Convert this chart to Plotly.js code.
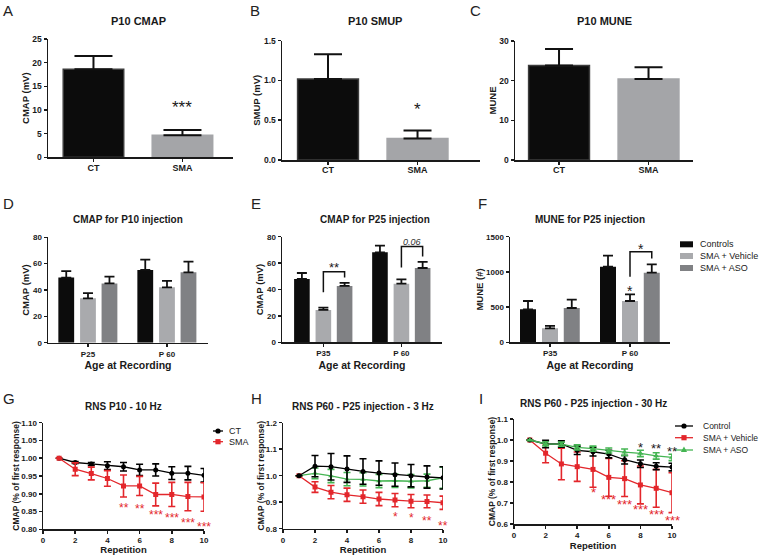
<!DOCTYPE html>
<html><head><meta charset="utf-8">
<script src="https://cdn.plot.ly/plotly-3.0.1.min.js"></script>
<style>html,body{margin:0;padding:0;background:#fff}#chart{width:760px;height:555px}</style>
</head><body><div id="chart"></div>
<script>
// ---------------- DATA ----------------
const topCats = ['CT', 'SMA'];
const cmapP10 = [18.6, 4.65];
const cmapP10Err = [2.8, 1.1];
const cmapP10Stars = ['', '***'];
const cmapP10StarY = [null, 11.3];
const smupP10 = [1.02, 0.27];
const smupP10Err = [0.31, 0.10];
const smupP10Stars = ['', '*'];
const smupP10StarY = [null, 0.68];
const muneP10 = [23.8, 20.4];
const muneP10Err = [4.2, 3.0];

const groupNames = ['Controls', 'SMA + Vehicle', 'SMA + ASO'];
const agesD = ['P25', 'P 60'];
const cmapP10injCT = [49.4, 55.2];
const cmapP10injCTErr = [5.0, 7.8];
const cmapP10injVeh = [33.7, 42.0];
const cmapP10injVehErr = [4.0, 5.0];
const cmapP10injASO = [45.0, 53.4];
const cmapP10injASOErr = [5.1, 8.1];

const agesE = ['P35', 'P 60'];
const cmapP25injCT = [48.0, 68.2];
const cmapP25injCTErr = [4.5, 5.0];
const cmapP25injVeh = [24.5, 44.4];
const cmapP25injVehErr = [1.8, 3.3];
const cmapP25injASO = [42.7, 56.3];
const cmapP25injASOErr = [2.3, 4.6];
const eBrGroup = [0, 1];
const eBrTop = [53.5, 72.5];
const eBrLeft = [37.9, 56.6];
const eBrRight = [49.0, 65.0];
const eBrLabel = ['**', '0.06'];
const eBrLabelY = [59.0, 76.3];

const agesF = ['P35', 'P 60'];
const muneP25injCT = [468, 1074];
const muneP25injCTErr = [119, 156];
const muneP25injVeh = [199, 587];
const muneP25injVehErr = [33, 94];
const muneP25injASO = [487, 989];
const muneP25injASOErr = [119, 118];
const fVehStars = ['', '*'];
const fVehStarY = [null, 776];
const fBrGroup = [1];
const fBrTop = [1287];
const fBrLeft = [932];
const fBrRight = [1192];
const fBrLabel = ['*'];
const fBrLabelY = [1372];

const reps = [1, 2, 3, 4, 5, 6, 7, 8, 9, 10];
const rnsGNames = ['CT', 'SMA'];
const rnsG_CT = [1.000, 0.988, 0.984, 0.979, 0.976, 0.967, 0.967, 0.958, 0.958, 0.952];
const rnsG_CTErr = [0, 0.003, 0.004, 0.011, 0.012, 0.016, 0.017, 0.018, 0.019, 0.019];
const rnsG_SMA = [1.000, 0.969, 0.957, 0.943, 0.922, 0.922, 0.898, 0.898, 0.892, 0.891];
const rnsG_SMAErr = [0, 0.018, 0.018, 0.022, 0.031, 0.027, 0.032, 0.034, 0.040, 0.040];
const rnsG_Stars = ['', '', '', '', '**', '**', '***', '***', '***', '***'];
const rnsG_StarY = [null, null, null, null, 0.868, 0.864, 0.847, 0.838, 0.826, 0.815];

const rnsNames = ['Control', 'SMA + Vehicle', 'SMA + ASO'];
const rnsH_Ctl = [1.000, 1.036, 1.034, 1.025, 1.016, 1.010, 1.004, 1.000, 0.995, 0.992];
const rnsH_CtlErr = [0, 0.040, 0.050, 0.050, 0.048, 0.046, 0.044, 0.042, 0.042, 0.042];
const rnsH_Veh = [1.000, 0.957, 0.938, 0.928, 0.921, 0.912, 0.908, 0.904, 0.903, 0.898];
const rnsH_VehErr = [0, 0.020, 0.025, 0.025, 0.025, 0.025, 0.025, 0.025, 0.024, 0.025];
const rnsH_ASO = [1.000, 1.009, 0.999, 0.987, 0.986, 0.980, 0.981, 0.979, 0.981, 0.992];
const rnsH_ASOErr = [0, 0.020, 0.025, 0.025, 0.025, 0.025, 0.025, 0.025, 0.025, 0.040];
const rnsH_Stars = ['', '', '', '', '', '', '*', '*', '**', '**'];
const rnsH_StarY = [null, null, null, null, null, null, 0.855, 0.850, 0.838, 0.820];

const rnsI_Ctl = [1.000, 0.981, 0.981, 0.951, 0.944, 0.933, 0.906, 0.887, 0.875, 0.871];
const rnsI_CtlErr = [0, 0.018, 0.015, 0.020, 0.020, 0.018, 0.020, 0.018, 0.017, 0.018];
const rnsI_Veh = [1.000, 0.937, 0.886, 0.873, 0.860, 0.822, 0.816, 0.786, 0.770, 0.749];
const rnsI_VehErr = [0, 0.045, 0.075, 0.070, 0.085, 0.090, 0.085, 0.090, 0.090, 0.095];
const rnsI_ASO = [1.000, 0.982, 0.980, 0.965, 0.959, 0.950, 0.942, 0.936, 0.924, 0.917];
const rnsI_ASOErr = [0, 0.010, 0.010, 0.012, 0.012, 0.012, 0.015, 0.015, 0.015, 0.015];
const rnsI_VehStars = ['', '', '', '', '*', '***', '***', '***', '***', '***'];
const rnsI_VehStarY = [null, null, null, null, 0.763, 0.729, 0.708, 0.681, 0.657, 0.629];
const rnsI_CtlStars = ['', '', '', '', '', '', '', '*', '**', '**'];
const rnsI_CtlStarY = [null, null, null, null, null, null, null, 0.976, 0.971, 0.960];

// ---------------- STYLE / LAYOUT ----------------
const FONT = 'Liberation Sans, Arial, Helvetica, sans-serif';
const W = 760, H = 555;
const INK = '#1a1a1a';
const BLACK = '#0c0c0c', GRAY = '#a4a5a8', LIGHT = '#a9aaad', DARK = '#808184';
const RED = '#e3262b', GREEN = '#45b553';
const groupColors = [BLACK, LIGHT, DARK];
const groupCenters = [-0.275, 0, 0.272];
const groupW = 0.2;

const px = v => v / W;
const py = v => 1 - v / H;

const layout = {
  width: W, height: H, margin: {l: 0, r: 0, t: 0, b: 0},
  paper_bgcolor: '#fff', plot_bgcolor: 'rgba(0,0,0,0)',
  showlegend: false, barmode: 'overlay',
  font: {family: FONT, color: INK},
  annotations: [], shapes: []
};

const baseAx = () => ({
  showline: true, linecolor: INK, linewidth: 1.5, ticks: 'outside', ticklen: 3,
  tickwidth: 1.5, tickcolor: INK, showgrid: false, zeroline: false, fixedrange: true,
  automargin: false, tickfont: {family: FONT, size: 8.5, weight: 'bold', color: INK}
});

function setAxes(n, box, xo, yo) {
  const s = n === 1 ? '' : String(n);
  layout['xaxis' + s] = Object.assign(baseAx(), {domain: [px(box[0]), px(box[1])], anchor: 'y' + s}, xo);
  layout['yaxis' + s] = Object.assign(baseAx(), {domain: [py(box[3]), py(box[2])], anchor: 'x' + s}, yo);
}
const axTitle = (text, size, standoff) => ({text, font: {family: FONT, size, weight: 'bold', color: INK}, standoff});

function note(text, x, y, size, extra) {
  layout.annotations.push(Object.assign({
    text, x: px(x), y: py(y), xref: 'paper', yref: 'paper', showarrow: false,
    xanchor: 'center', yanchor: 'middle', font: {family: FONT, size, color: INK}
  }, extra || {}));
}
function title(text, x, y, size) { note(text, x, y, size, {font: {family: FONT, size, weight: 'bold', color: INK}}); }

function stars(n, xs, labels, ys, color, size) {
  const s = n === 1 ? '' : String(n);
  labels.forEach((t, i) => {
    if (!t) return;
    layout.annotations.push({text: t, x: xs[i], y: ys[i], xref: 'x' + s, yref: 'y' + s,
      showarrow: false, xanchor: 'center', yanchor: 'middle', yshift: -0.22 * size,
      font: {family: FONT, size, color}});
  });
}

const traces = [];
function topBars(n, vals, errs, cap) {
  const s = n === 1 ? '' : String(n);
  traces.push({type: 'bar', x: topCats.map((c, i) => i), y: vals, width: 0.68,
    xaxis: 'x' + s, yaxis: 'y' + s, hoverinfo: 'skip',
    marker: {color: [BLACK, GRAY], line: {color: ['#3c3c3c', GRAY], width: 1.5}},
    error_y: {type: 'data', symmetric: false, array: errs, arrayminus: errs.map(() => 0),
      color: '#111', thickness: 2, width: cap}});
}
function groupBars(n, cats, series, errs) {
  const s = n === 1 ? '' : String(n);
  series.forEach((vals, k) => {
    traces.push({type: 'bar', name: groupNames[k], x: cats.map((c, i) => i), y: vals,
      width: groupW, offset: groupCenters[k] - groupW / 2,
      xaxis: 'x' + s, yaxis: 'y' + s, hoverinfo: 'skip',
      marker: {color: groupColors[k], line: {width: 0}},
      error_y: {type: 'data', symmetric: false, array: errs[k], arrayminus: errs[k].map(() => 0),
        color: '#111', thickness: 1.8, width: 5}});
  });
}
function brackets(n, groups, top, left, right, labels, labelY, labelStyles) {
  const s = n === 1 ? '' : String(n);
  groups.forEach((g, i) => {
    const xl = g + groupCenters[1], xr = g + groupCenters[2];
    traces.push({type: 'scatter', mode: 'lines', x: [xl, xl, xr, xr], y: [left[i], top[i], top[i], right[i]],
      xaxis: 'x' + s, yaxis: 'y' + s, hoverinfo: 'skip', showlegend: false,
      line: {color: '#111', width: 1.5}});
    const st = labelStyles[i];
    layout.annotations.push({text: labels[i], x: (xl + xr) / 2, y: labelY[i], xref: 'x' + s, yref: 'y' + s,
      showarrow: false, xanchor: 'center', yanchor: 'middle', yshift: st.yshift,
      font: {family: FONT, size: st.size, color: st.color, style: st.style || 'normal'}});
  });
}
function lineTrace(n, y, err, color, symbol, size) {
  const s = n === 1 ? '' : String(n);
  traces.push({type: 'scatter', mode: 'lines+markers', x: reps, y, xaxis: 'x' + s, yaxis: 'y' + s,
    hoverinfo: 'skip', line: {color, width: 1.3}, marker: {symbol, size, color},
    error_y: {type: 'data', array: err, color, thickness: 1.6, width: 3.5}});
}

// manual compact legends
function legendMarker(x, y, symbol, color, r) {
  const base = {xref: 'paper', yref: 'paper', xsizemode: 'pixel', ysizemode: 'pixel',
    xanchor: px(x), yanchor: py(y), fillcolor: color, line: {color, width: 0}};
  if (symbol === 'circle') layout.shapes.push(Object.assign({type: 'circle', x0: -r, x1: r, y0: -r, y1: r}, base));
  else if (symbol === 'square') layout.shapes.push(Object.assign({type: 'rect', x0: -r, x1: r, y0: -r, y1: r}, base));
  else layout.shapes.push(Object.assign({type: 'path', path: `M${-r - 0.5},${-r + 0.5} L${r + 0.5},${-r + 0.5} L0,${r + 1} Z`}, base));
}
function lineLegend(names, colors, symbols, x0, x1, xText, ys, size) {
  names.forEach((nm, i) => {
    layout.shapes.push({type: 'line', xref: 'paper', yref: 'paper', x0: px(x0), x1: px(x1), y0: py(ys[i]), y1: py(ys[i]),
      line: {color: colors[i], width: 1.3}});
    legendMarker((x0 + x1) / 2, ys[i], symbols[i], colors[i], 2.6);
    note(nm, xText, ys[i], size, {xanchor: 'left'});
  });
}
function barLegend(names, colors, x0, x1, xText, ys, h, size) {
  names.forEach((nm, i) => {
    layout.shapes.push({type: 'rect', xref: 'paper', yref: 'paper', x0: px(x0), x1: px(x1),
      y0: py(ys[i] + h / 2), y1: py(ys[i] - h / 2), fillcolor: colors[i], line: {width: 0}});
    note(nm, xText, ys[i], size, {xanchor: 'left'});
  });
}

// ---------------- PANELS ----------------
const catTick = (cats, size) => ({tickmode: 'array', tickvals: cats.map((c, i) => i), ticktext: cats,
  tickfont: {family: FONT, size, weight: 'bold', color: INK}});

// A
setAxes(1, [48, 233, 39, 157.3], Object.assign({range: [-0.511, 1.568], ticklabelstandoff: -2}, catTick(topCats, 9)),
  {range: [0, 25], dtick: 5, title: axTitle('CMAP (mV)', 9.5, 1)});
topBars(1, cmapP10, cmapP10Err, 19);
stars(1, [0, 1], cmapP10Stars, cmapP10StarY, INK, 17);
// B
setAxes(2, [282, 480, 40.7, 160], Object.assign({range: [-0.514, 1.698], ticklabelstandoff: -2}, catTick(topCats, 9)),
  {range: [0, 1.5], dtick: 0.5, tickformat: '.1f', title: axTitle('SMUP (mV)', 9.5, 1)});
topBars(2, smupP10, smupP10Err, 14);
stars(2, [0, 1], smupP10Stars, smupP10StarY, INK, 17);
// C
setAxes(3, [515, 693, 41, 160], Object.assign({range: [-0.492, 1.497], ticklabelstandoff: -2}, catTick(topCats, 9)),
  {range: [0, 30], dtick: 10, title: axTitle('MUNE', 9.5, 1)});
topBars(3, muneP10, muneP10Err, 14);
// D
const midYfont = {family: FONT, size: 8, weight: 'bold', color: INK};
setAxes(4, [48, 208, 237.3, 342.7], Object.assign({range: [-0.506, 1.519], title: axTitle('Age at Recording', 10.5, 4)}, catTick(agesD, 8)),
  {range: [0, 80], dtick: 20, tickfont: midYfont, title: axTitle('CMAP (mV)', 9.5, 1)});
groupBars(4, agesD, [cmapP10injCT, cmapP10injVeh, cmapP10injASO], [cmapP10injCTErr, cmapP10injVehErr, cmapP10injASOErr]);
// E
setAxes(5, [282, 442, 236.7, 342.3], Object.assign({range: [-0.53, 1.52], title: axTitle('Age at Recording', 10.5, 4)}, catTick(agesE, 8)),
  {range: [0, 80], dtick: 20, tickfont: midYfont, title: axTitle('CMAP (mV)', 9.5, 1)});
groupBars(5, agesE, [cmapP25injCT, cmapP25injVeh, cmapP25injASO], [cmapP25injCTErr, cmapP25injVehErr, cmapP25injASOErr]);
brackets(5, eBrGroup, eBrTop, eBrLeft, eBrRight, eBrLabel, eBrLabelY,
  [{size: 13, color: INK, yshift: -3}, {size: 9, color: '#333', style: 'italic', yshift: 0}]);
// F
setAxes(6, [510, 670, 236.7, 342.3], Object.assign({range: [-0.5, 1.5], title: axTitle('Age at Recording', 10.5, 4)}, catTick(agesF, 8)),
  {range: [0, 1500], dtick: 500, tickfont: midYfont, title: axTitle('MUNE (#)', 9.5, 1)});
groupBars(6, agesF, [muneP25injCT, muneP25injVeh, muneP25injASO], [muneP25injCTErr, muneP25injVehErr, muneP25injASOErr]);
stars(6, agesF.map((c, i) => i + groupCenters[1]), fVehStars, fVehStarY, INK, 14);
brackets(6, fBrGroup, fBrTop, fBrLeft, fBrRight, fBrLabel, fBrLabelY, [{size: 14, color: INK, yshift: -3}]);
barLegend(groupNames, groupColors, 680, 693, 698, [244.3, 256, 268], 6, 9);
// G
const lineYfont = {family: FONT, size: 8, weight: 'bold', color: INK};
const lineXax = () => ({range: [0, 10], dtick: 2, tickfont: lineYfont, title: axTitle('Repetition', 9.5, 3)});
setAxes(7, [43, 204, 422.7, 529.3], lineXax(),
  {range: [0.8, 1.1], dtick: 0.05, tickformat: '.2f', tickfont: lineYfont, title: axTitle('CMAP (% of first response)', 8.5, 0)});
lineTrace(7, rnsG_CT, rnsG_CTErr, '#000', 'circle', 5);
lineTrace(7, rnsG_SMA, rnsG_SMAErr, RED, 'square', 5);
stars(7, reps, rnsG_Stars, rnsG_StarY, RED, 12);
lineLegend(rnsGNames, ['#000', RED], ['circle', 'square'], 213, 223, 227, [431, 441.7], 9);
// H
setAxes(8, [283, 443, 422.7, 528.7], lineXax(),
  {range: [0.8, 1.2], dtick: 0.1, tickformat: '.1f', tickfont: lineYfont, title: axTitle('CMAP (% of first response)', 8.5, 0)});
lineTrace(8, rnsH_Veh, rnsH_VehErr, RED, 'square', 5);
lineTrace(8, rnsH_ASO, rnsH_ASOErr, GREEN, 'triangle-up', 5);
lineTrace(8, rnsH_Ctl, rnsH_CtlErr, '#000', 'circle', 5);
stars(8, reps, rnsH_Stars, rnsH_StarY, RED, 12);
// I
setAxes(9, [514, 672, 419, 524], lineXax(),
  {range: [0.6, 1.1], dtick: 0.1, tickformat: '.1f', tickfont: lineYfont, title: axTitle('CMAP (% of first response)', 8.5, 0)});
lineTrace(9, rnsI_Veh, rnsI_VehErr, RED, 'square', 5);
lineTrace(9, rnsI_Ctl, rnsI_CtlErr, '#000', 'circle', 5);
lineTrace(9, rnsI_ASO, rnsI_ASOErr, GREEN, 'triangle-up', 5.5);
stars(9, reps, rnsI_VehStars, rnsI_VehStarY, RED, 13);
stars(9, reps, rnsI_CtlStars, rnsI_CtlStarY, INK, 13);
lineLegend(rnsNames, ['#000', RED, GREEN], ['circle', 'square', 'triangle'], 675, 693, 701, [426, 437.7, 450], 8.5);

// titles
title('P10 CMAP', 138, 21, 11);
title('P10 SMUP', 375, 21, 11);
title('P10 MUNE', 604, 21, 11);
title('CMAP for P10 injection', 128, 220, 10);
title('CMAP for P25 injection', 375, 220, 10);
title('MUNE for P25 injection', 590, 220, 10);
title('RNS P10 - 10 Hz', 123, 406, 10);
title('RNS P60 - P25 injection - 3 Hz', 363, 406, 10);
title('RNS P60 - P25 injection - 30 Hz', 593, 403, 10);

// panel letters
[['A', 8, 10], ['B', 255, 10], ['C', 476, 10], ['D', 8, 203.5], ['E', 256, 203.5], ['F', 482, 203.5],
 ['G', 9, 398], ['H', 256, 398], ['I', 481, 398]].forEach(p => note(p[0], p[1], p[2], 15, {font: {family: FONT, size: 15, color: '#222'}}));

Plotly.newPlot('chart', traces, layout, {displayModeBar: false, staticPlot: true});
</script></body></html>
